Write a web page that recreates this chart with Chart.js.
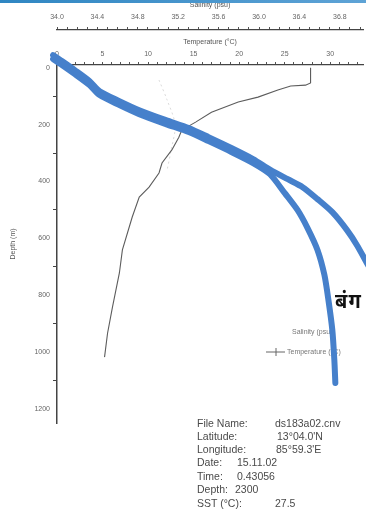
<!DOCTYPE html>
<html>
<head>
<meta charset="utf-8">
<script src="https://cdn.jsdelivr.net/npm/chart.js@4.4.0/dist/chart.umd.min.js"></script>
<style>
  html, body { margin: 0; padding: 0; background: #fff; }
  #wrap { position: relative; width: 366px; height: 516px; overflow: hidden; }
  #topband { position: absolute; left: 0; top: 0; width: 366px; height: 3px; background: linear-gradient(to right, #2f86c2, #5ea3d6); }
  .info { position: absolute; font: 10.5px "Liberation Sans", Arial, sans-serif; color: #4a4a4a; white-space: nowrap; line-height: 12px; }
  #bang { position: absolute; left: 335px; top: 290px; font: bold 20px "Noto Sans Devanagari", "Lohit Devanagari", "Noto Sans", sans-serif; color: #111; white-space: nowrap; letter-spacing: 1px; }
</style>
</head>
<body>
<div id="wrap">
  <canvas id="ctd" width="366" height="516"></canvas>
  <div id="topband"></div>
  <div id="bang">बंग</div>
  <div class="info" style="left:197px;top:417px">File Name:</div>
  <div class="info" style="left:275px;top:417px">ds183a02.cnv</div>
  <div class="info" style="left:197px;top:430px">Latitude:</div>
  <div class="info" style="left:277px;top:430px">13°04.0'N</div>
  <div class="info" style="left:197px;top:443px">Longitude:</div>
  <div class="info" style="left:276px;top:443px">85°59.3'E</div>
  <div class="info" style="left:197px;top:456px">Date:</div>
  <div class="info" style="left:237px;top:456px">15.11.02</div>
  <div class="info" style="left:197px;top:470px">Time:</div>
  <div class="info" style="left:237px;top:470px">0.43056</div>
  <div class="info" style="left:197px;top:483px">Depth:</div>
  <div class="info" style="left:235px;top:483px">2300</div>
  <div class="info" style="left:197px;top:497px">SST (°C):</div>
  <div class="info" style="left:275px;top:497px">27.5</div>
</div>
<script>
// thick blue profiles (temperature scale, depth in m)
const profileATemp  = [-0.43, 0.54, 1.96, 3.59, 4.68, 6.85, 9.03, 11.96, 14.46, 16.64, 19.14, 21.53, 23.38, 25.34, 26.97, 28.60, 30.23, 31.86, 32.95, 34.25];
const profileADepth = [-45, -24, 8, 47, 82, 117, 149, 184, 212, 244, 282, 321, 358, 392, 420, 462, 508, 572, 625, 700];
const profileBTemp  = [-0.43, 0.54, 1.96, 3.59, 4.68, 6.85, 9.03, 11.96, 14.46, 16.64, 19.14, 21.53, 23.38, 25.01, 26.42, 27.51, 28.60, 29.36, 29.80, 30.23, 30.45, 30.56];
const profileBDepth = [-31, -10, 22, 61, 96, 131, 163, 198, 226, 258, 296, 335, 374, 441, 501, 564, 641, 729, 817, 923, 1028, 1109];

// CTD temperature trace
const tempValues = [27.84, 27.84, 27.29, 25.66, 24.25, 22.07, 19.90, 16.96, 15.22, 13.70, 13.38, 12.61, 11.53, 11.20, 10.11, 9.03, 8.26, 7.18, 6.85, 6.09, 5.55, 5.22];
const tempDepths = [0, 53, 61, 64, 78, 103, 120, 156, 191, 219, 244, 289, 335, 370, 420, 455, 525, 641, 722, 842, 934, 1018];

// faint salinity trace
const salValues = [35.01, 35.09, 35.17, 35.13, 35.09];
const salDepths = [43, 113, 201, 289, 360];

const depthTicks = [0, 200, 400, 600, 800, 1000, 1200];
const tempLabels = [0, 5, 10, 15, 20, 25, 30];
const salLabels = ['34.0', '34.4', '34.8', '35.2', '35.6', '36.0', '36.4', '36.8'];

const pts = (xs, ys) => xs.map((v, i) => ({ x: v, y: ys[i] }));
const blue = '#4680cb';
const axisFont = { family: '"Liberation Sans", Arial, sans-serif', size: 7 };

// legend drawn inside the plot, under the curves
const insideLegend = {
    id: 'insideLegend',
    beforeDatasetsDraw(chart) {
        const c = chart.ctx;
        c.save();
        c.font = '7px "Liberation Sans", Arial, sans-serif';
        c.fillStyle = '#777';
        c.textBaseline = 'middle';
        c.fillText('Salinity (psu)', 292, 332);
        c.fillText('Temperature (°C)', 287, 352);
        c.strokeStyle = '#666';
        c.lineWidth = 1;
        c.beginPath();
        c.moveTo(266, 352); c.lineTo(285, 352);
        c.moveTo(276, 348); c.lineTo(276, 356);
        c.stroke();
        c.restore();
    }
};

new Chart(document.getElementById('ctd').getContext('2d'), {
    type: 'scatter',
    data: {
        datasets: [
            { label: 'Profile A', data: pts(profileATemp, profileADepth), showLine: true, borderColor: blue, borderWidth: 6,
              pointRadius: 0, tension: 0.25, clip: false, order: 0, borderCapStyle: 'round' },
            { label: 'Profile B', data: pts(profileBTemp, profileBDepth), showLine: true, borderColor: blue, borderWidth: 6,
              pointRadius: 0, tension: 0.25, clip: false, order: 0, borderCapStyle: 'round' },
            { label: 'Temperature (°C)', data: pts(tempValues, tempDepths), showLine: true, borderColor: '#5c5c5c', borderWidth: 1.1,
              pointRadius: 0, tension: 0, order: 1 },
            { label: 'Salinity (psu)', xAxisID: 'sal', data: pts(salValues, salDepths), showLine: true, borderColor: '#dadada',
              borderDash: [2, 3], borderWidth: 1, pointRadius: 0, tension: 0.3, order: 2 }
        ]
    },
    options: {
        responsive: false,
        animation: false,
        layout: { padding: { left: 0, right: 0, top: 0, bottom: 93 } },
        plugins: { legend: { display: false }, tooltip: { enabled: false } },
        scales: {
            x: {
                type: 'linear', position: 'top', min: 0, max: 33.6, weight: 0,
                afterFit: (s) => { s.height = 35; },
                title: { display: true, text: 'Temperature (°C)', color: '#555', font: axisFont, padding: { top: 8, bottom: 0 } },
                ticks: {
                    stepSize: 1, autoSkip: false, includeBounds: false, maxRotation: 0, minRotation: 0,
                    padding: 4, color: '#666', font: axisFont,
                    callback: (v) => tempLabels.includes(v) ? String(v) : ''
                },
                grid: { drawOnChartArea: false, tickLength: 3, tickColor: '#555' },
                border: { color: '#444', width: 1.2 }
            },
            sal: {
                type: 'linear', position: 'top', min: 34, max: 37.03, weight: 1,
                afterFit: (s) => { s.height = 30; },
                title: { display: true, text: 'Salinity (psu)', color: '#555', font: axisFont, padding: { top: 1, bottom: 0 } },
                ticks: {
                    stepSize: 0.1, autoSkip: false, includeBounds: false, maxRotation: 0, minRotation: 0,
                    padding: 6, color: '#666', font: axisFont,
                    callback: (v) => {
                        const lbl = v.toFixed(1);
                        return salLabels.includes(lbl) ? lbl : '';
                    }
                },
                grid: { drawOnChartArea: false, tickLength: 3, tickColor: '#555' },
                border: { color: '#444', width: 1.2 }
            },
            y: {
                type: 'linear', reverse: true, min: -10, max: 1250,
                afterFit: (s) => { s.width = 57; },
                title: { display: true, text: 'Depth (m)', color: '#555', font: axisFont, padding: { top: 9, bottom: 0 } },
                ticks: {
                    stepSize: 100, autoSkip: false, includeBounds: false,
                    padding: 3, color: '#666', font: axisFont,
                    callback: (v) => depthTicks.includes(v) ? String(v) : ''
                },
                grid: {
                    drawOnChartArea: false, tickLength: 4,
                    tickColor: (c) => (c.tick && c.tick.value % 200 === 100) ? '#444' : 'rgba(0,0,0,0)'
                },
                border: { color: '#444', width: 1.5 }
            }
        }
    },
    plugins: [insideLegend]
});
</script>
</body>
</html>
